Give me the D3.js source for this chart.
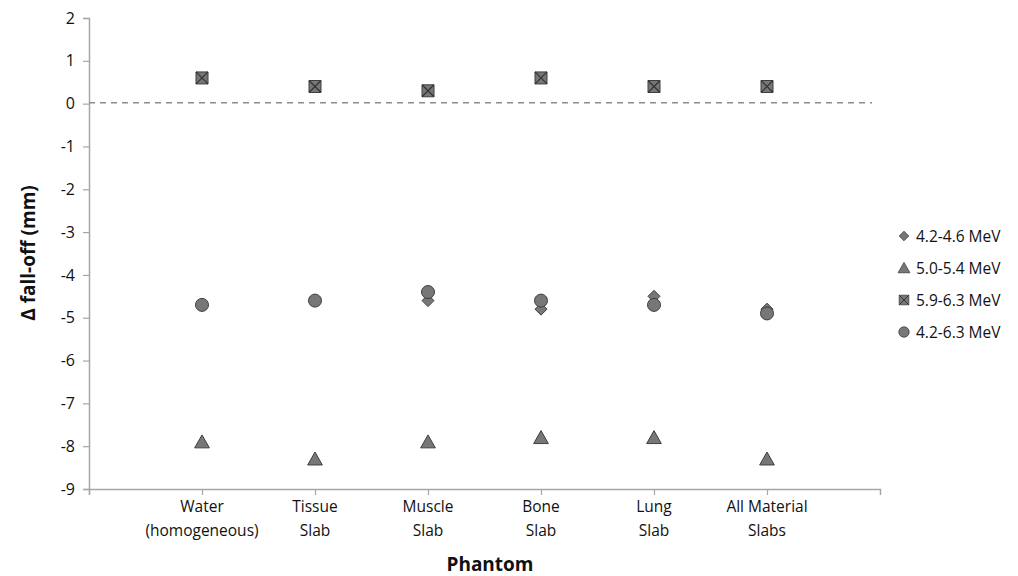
<!DOCTYPE html>
<html>
<head>
<meta charset="utf-8">
<script src="https://cdn.jsdelivr.net/npm/d3@7"></script>
<style>
  body { margin: 0; background: #fff; }
  text { font-family: "Open Sans", "Noto Sans", sans-serif; fill: #111; }
</style>
</head>
<body>
<svg id="chart" width="1018" height="576"></svg>
<script>
// categories and series
let phantoms = [["Water", "(homogeneous)"], ["Tissue", "Slab"], ["Muscle", "Slab"],
                ["Bone", "Slab"], ["Lung", "Slab"], ["All Material", "Slabs"]];
let series42_46 = [-4.7, -4.6, -4.6, -4.8, -4.5, -4.8];
let series50_54 = [-7.9, -8.3, -7.9, -7.8, -7.8, -8.3];
let series59_63 = [0.6, 0.4, 0.3, 0.6, 0.4, 0.4];
let series42_63 = [-4.7, -4.6, -4.4, -4.6, -4.7, -4.9];
let yTicks = [2, 1, 0, -1, -2, -3, -4, -5, -6, -7, -8, -9];

let svg = d3.select("#chart");
let x = d3.scaleLinear().domain([0, 7]).range([89, 880]);
let y = d3.scaleLinear().domain([-9, 2]).range([489, 18]);

let axisColor = "#a6a6a6";
let fill = "#777777", stroke = "#3f3f3f";

// y axis
let yAxis = svg.append("g").attr("transform", "translate(89,0)")
    .call(d3.axisLeft(y).tickValues(yTicks).tickSize(6).tickFormat(function(d) { return String(d); }));
yAxis.select(".domain").attr("stroke", axisColor).attr("stroke-width", 1.5);
yAxis.selectAll(".tick line").attr("stroke", axisColor).attr("stroke-width", 1.2);
yAxis.selectAll(".tick text").attr("x", -14).style("font-size", "16px")
    .style("font-family", "'Open Sans', sans-serif").attr("fill", "#111");

// x axis
let xAxis = svg.append("g").attr("transform", "translate(0,489)")
    .call(d3.axisBottom(x).tickValues([0, 1, 2, 3, 4, 5, 6]).tickSize(6).tickFormat(""));
xAxis.select(".domain").attr("stroke", axisColor).attr("stroke-width", 1.5);
xAxis.selectAll(".tick line").attr("stroke", axisColor).attr("stroke-width", 1.2);

let labels = svg.append("g");
phantoms.forEach(function(p, i) {
    let t = labels.append("text")
        .attr("x", x(i + 1)).attr("y", 512)
        .attr("text-anchor", "middle")
        .style("font-size", "15.5px");
    t.append("tspan").attr("x", x(i + 1)).attr("dy", 0).text(p[0]);
    t.append("tspan").attr("x", x(i + 1)).attr("dy", 24).text(p[1]);
});

// zero reference line
svg.append("line")
    .attr("x1", x(0)).attr("x2", 872)
    .attr("y1", y(0.02)).attr("y2", y(0.02))
    .attr("stroke", "#8c8c8c").attr("stroke-width", 1.5)
    .attr("stroke-dasharray", "6,5");

// marker shapes
let diamond = function(s) { return "M0," + (-s) + "L" + s + ",0L0," + s + "L" + (-s) + ",0Z"; };
let triangle = function(s) { return "M0," + (-s) + "L" + (s * 1.05) + "," + (s * 0.85) + "L" + (-s * 1.05) + "," + (s * 0.85) + "Z"; };
let square = function(s) { return "M" + (-s) + "," + (-s) + "H" + s + "V" + s + "H" + (-s) + "Z"; };
let cross = function(s) { return "M" + (-s) + "," + (-s) + "L" + s + "," + s + "M" + s + "," + (-s) + "L" + (-s) + "," + s; };

let drawSeries = function(data, kind, g) {
    let pts = g.selectAll("g").data(data).enter().append("g")
        .attr("transform", function(d, i) { return "translate(" + x(i + 1) + "," + y(d) + ")"; });
    drawMarker(pts, kind);
};

let drawMarker = function(sel, kind) {
    if (kind === "diamond") {
        sel.append("path").attr("d", diamond(6)).attr("fill", fill).attr("stroke", stroke).attr("stroke-width", 1);
    } else if (kind === "triangle") {
        sel.append("path").attr("d", triangle(7)).attr("fill", fill).attr("stroke", stroke).attr("stroke-width", 1);
    } else if (kind === "xsquare") {
        sel.append("path").attr("d", square(6)).attr("fill", fill).attr("stroke", stroke).attr("stroke-width", 1);
        sel.append("path").attr("d", cross(6)).attr("fill", "none").attr("stroke", "#333").attr("stroke-width", 1.2);
    } else {
        sel.append("circle").attr("r", 6.5).attr("fill", fill).attr("stroke", stroke).attr("stroke-width", 1);
    }
};

let marks = svg.append("g");
drawSeries(series42_46, "diamond", marks.append("g"));
drawSeries(series50_54, "triangle", marks.append("g"));
drawSeries(series59_63, "xsquare", marks.append("g"));
drawSeries(series42_63, "circle", marks.append("g"));

// legend
let legendItems = [["diamond", "4.2-4.6 MeV"], ["triangle", "5.0-5.4 MeV"],
                   ["xsquare", "5.9-6.3 MeV"], ["circle", "4.2-6.3 MeV"]];
let legend = svg.append("g");
legendItems.forEach(function(item, i) {
    let row = legend.append("g").attr("transform", "translate(904," + (236 + i * 32) + ")");
    let m = row.append("g").attr("transform", "scale(0.8)");
    drawMarker(m, item[0]);
    row.append("text").attr("x", 12).attr("y", 5.5).style("font-size", "15.5px").text(item[1]);
});

// axis titles
svg.append("text")
    .attr("transform", "translate(35,253) rotate(-90)")
    .attr("text-anchor", "middle")
    .style("font-size", "19px").style("font-weight", "bold")
    .text("\u0394 fall-off (mm)");
svg.append("text")
    .attr("x", 490).attr("y", 571)
    .attr("text-anchor", "middle")
    .style("font-size", "19px").style("font-weight", "bold")
    .text("Phantom");
</script>
</body>
</html>
